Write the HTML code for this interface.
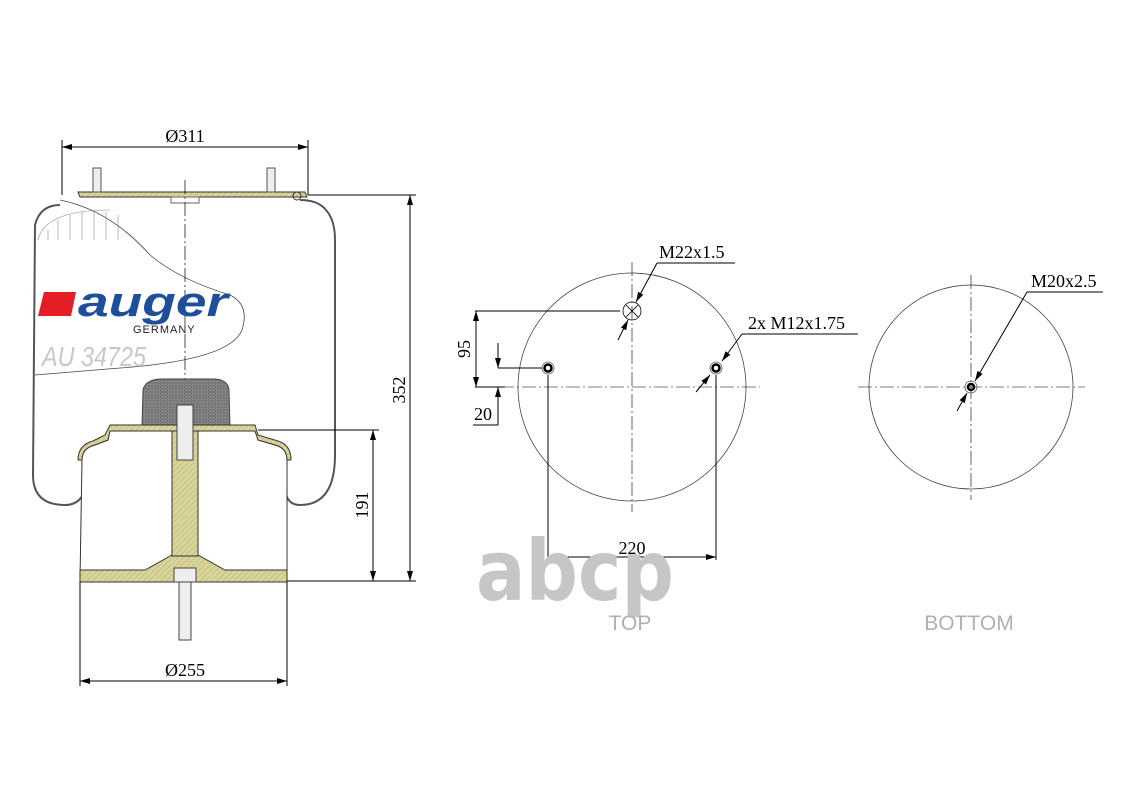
<!DOCTYPE html>
<html><head><meta charset="utf-8"><style>
html,body{margin:0;padding:0;background:#fff;}
svg{display:block;}
.s{font-family:"Liberation Serif",serif;fill:#000;}
.ss{font-family:"Liberation Sans",sans-serif;}
</style></head><body>
<svg width="1131" height="800" viewBox="0 0 1131 800" xmlns="http://www.w3.org/2000/svg">
<defs>
<marker id="a" viewBox="0 0 10 6" refX="10" refY="3" markerWidth="10" markerHeight="6" orient="auto-start-reverse" markerUnits="userSpaceOnUse"><path d="M0,0 L10,3 L0,6z" fill="#000"/></marker>
<pattern id="h" width="4" height="4" patternUnits="userSpaceOnUse" patternTransform="rotate(45)"><rect width="4" height="4" fill="#d9d49a"/><line x1="0" y1="0" x2="0" y2="4" stroke="#b8b070" stroke-width="1"/></pattern>
<pattern id="g" width="3" height="3" patternUnits="userSpaceOnUse"><rect width="3" height="3" fill="#7a7a7a"/><rect width="1" height="1" fill="#999"/></pattern>
</defs>

<g stroke="#000" fill="none" stroke-width="1">
<line x1="62" y1="147" x2="308" y2="147" marker-start="url(#a)" marker-end="url(#a)"/>
<line x1="62" y1="140" x2="62" y2="195"/><line x1="308" y1="140" x2="308" y2="195"/>
<path d="M300,200 Q318,200 326,210 Q335,220 335,240 L335,455 Q335,505 300,505 Q287,505 285,490" stroke="#555" stroke-width="2"/>
<path d="M60,205 Q40,205 35,225 L33,475 Q33,505 65,505 Q80,505 85,490" stroke="#555" stroke-width="2"/>
<path d="M60,200 Q110,210 150,255 Q180,280 230,295 Q250,305 242,330 Q230,360 120,368 L35,375" stroke="#444" stroke-width="0.8"/>
<path d="M38,240 Q45,210 110,210 M48,230 L48,240 M58,220 L58,240 M70,215 L70,240 M82,212 L82,240 M94,212 L94,240 M106,212 L106,240 M118,215 L118,240" stroke="#888" stroke-width="0.6"/>
<path d="M78,192 L305,192 L307,197 L80,197 Z" fill="url(#h)" stroke="#333"/>
<rect x="171" y="197" width="28" height="6" stroke="#666"/>
<rect x="93" y="168" width="8" height="24" fill="#eee" stroke="#555"/>
<rect x="267" y="168" width="8" height="24" fill="#eee" stroke="#555"/>
<circle cx="297" cy="196" r="4" stroke="#333"/>
<line x1="185" y1="180" x2="185" y2="560" stroke="#000" stroke-dasharray="14,3,2,3" stroke-width="0.7"/>
<path d="M142,428 L143,390 Q145,380 160,379 L215,379 Q228,380 229,390 L230,428 Z" fill="url(#g)" stroke="#444"/>
<path d="M110,428 L255,428 L258,440 L275,445 Q287,448 287,460 L287,580 L80,580 L82,460 Q82,448 95,445 L108,440 Z" fill="#fff" stroke="#333" stroke-width="1"/>
<path d="M110,425 L255,425 L258,435 L278,441 Q291,445 291,460 L287,460 Q287,448 275,445 L258,440 L255,431 L110,431 L108,440 L95,445 Q82,448 82,460 L78,460 Q78,445 93,441 L105,435 Z" fill="url(#h)" stroke="#333"/>
<path d="M80,570 L145,570 L172,555 L198,555 L225,570 L287,570 L287,582 L80,582 Z" fill="url(#h)" stroke="#333"/>
<rect x="172" y="431" width="26" height="125" fill="url(#h)" stroke="#333"/>
<rect x="177" y="405" width="16" height="55" fill="#eee" stroke="#444"/>
<rect x="174" y="568" width="22" height="14" fill="#eee" stroke="#444"/>
<rect x="179" y="582" width="12" height="58" fill="#eee" stroke="#444"/>
<line x1="308" y1="195" x2="416" y2="195"/>
<line x1="287" y1="581" x2="416" y2="581"/>
<line x1="410" y1="195" x2="410" y2="581" marker-start="url(#a)" marker-end="url(#a)"/>
<line x1="258" y1="430" x2="379" y2="430"/>
<line x1="373" y1="430" x2="373" y2="581" marker-start="url(#a)" marker-end="url(#a)"/>
<line x1="80" y1="582" x2="80" y2="686"/><line x1="287" y1="582" x2="287" y2="686"/>
<line x1="80" y1="681" x2="287" y2="681" marker-start="url(#a)" marker-end="url(#a)"/>
</g>
<text class="s" x="185" y="142" font-size="18" text-anchor="middle">Ø311</text>
<text class="s" x="185" y="676" font-size="18" text-anchor="middle">Ø255</text>
<text class="s" transform="translate(405,390) rotate(-90)" font-size="18" text-anchor="middle">352</text>
<text class="s" transform="translate(368,505) rotate(-90)" font-size="18" text-anchor="middle">191</text>
<path d="M44,292 L76,292 L71,316 L38,316 Z" fill="#e31e24"/>
<text class="ss" x="78" y="316" font-weight="bold" font-style="italic" font-size="42" style="fill:#1d4f9c" textLength="150" lengthAdjust="spacingAndGlyphs">auger</text>
<text class="ss" x="133" y="333" font-size="11" style="fill:#222" letter-spacing="1">GERMANY</text>
<text class="ss" x="42" y="366" font-style="italic" font-size="28" style="fill:#c8c8c8" textLength="104" lengthAdjust="spacingAndGlyphs">AU 34725</text>

<g stroke="#000" fill="none" stroke-width="0.8">
<circle cx="632" cy="387" r="114" stroke="#444"/>
<line x1="500" y1="387" x2="760" y2="387" stroke-dasharray="14,3,2,3" stroke-width="0.6"/>
<line x1="632" y1="262" x2="632" y2="512" stroke-dasharray="14,3,2,3" stroke-width="0.6"/>
<circle cx="632" cy="311" r="9"/>
<line x1="626" y1="305" x2="638" y2="317"/><line x1="638" y1="305" x2="626" y2="317"/>
<circle cx="548" cy="368" r="6" stroke="#555"/><circle cx="548" cy="368" r="3.5" stroke-width="2.5"/>
<circle cx="716" cy="368" r="6" stroke="#555"/><circle cx="716" cy="368" r="3.5" stroke-width="2.5"/>
<line x1="475" y1="311" x2="620" y2="311" stroke-width="1"/>
<line x1="475" y1="387" x2="505" y2="387" stroke-width="1"/>
<line x1="476" y1="311" x2="476" y2="387" marker-start="url(#a)" marker-end="url(#a)" stroke-width="1"/>
<line x1="498" y1="368" x2="542" y2="368" stroke-width="1"/>
<line x1="498" y1="343" x2="498" y2="368" marker-end="url(#a)" stroke-width="1"/>
<line x1="498" y1="425" x2="498" y2="387" marker-end="url(#a)" stroke-width="1"/>
<line x1="473" y1="425" x2="498" y2="425" stroke-width="1"/>
<line x1="548" y1="375" x2="548" y2="560" stroke-width="1"/>
<line x1="716" y1="375" x2="716" y2="560" stroke-width="1"/>
<line x1="548" y1="557" x2="716" y2="557" marker-start="url(#a)" marker-end="url(#a)" stroke-width="1"/>
<line x1="657" y1="263" x2="735" y2="263" stroke-width="1"/>
<line x1="657" y1="263" x2="636" y2="302" marker-end="url(#a)" stroke-width="1"/>
<line x1="628" y1="320" x2="618" y2="340" marker-start="url(#a)" stroke-width="1"/>
<line x1="742" y1="334" x2="858" y2="334" stroke-width="1"/>
<line x1="742" y1="334" x2="722" y2="361" marker-end="url(#a)" stroke-width="1"/>
<line x1="710" y1="375" x2="696" y2="392" marker-start="url(#a)" stroke-width="1"/>
</g>
<text class="s" x="659" y="258" font-size="18">M22x1.5</text>
<text class="s" x="748" y="329" font-size="18">2x M12x1.75</text>
<text class="s" transform="translate(470,349) rotate(-90)" font-size="18" text-anchor="middle">95</text>
<text class="s" x="474" y="420" font-size="18">20</text>
<text class="s" x="632" y="554" font-size="18" text-anchor="middle">220</text>

<g stroke="#000" fill="none" stroke-width="0.8">
<circle cx="971" cy="387" r="102" stroke="#444"/>
<line x1="858" y1="387" x2="1085" y2="387" stroke-dasharray="14,3,2,3" stroke-width="0.6"/>
<line x1="971" y1="275" x2="971" y2="500" stroke-dasharray="14,3,2,3" stroke-width="0.6"/>
<circle cx="971" cy="387" r="6" stroke="#555"/><circle cx="971" cy="387" r="3" stroke-width="2.5"/>
<line x1="1027" y1="292" x2="1103" y2="292" stroke-width="1"/>
<line x1="1027" y1="292" x2="975" y2="381" marker-end="url(#a)" stroke-width="1"/>
<line x1="967" y1="393" x2="957" y2="411" marker-start="url(#a)" stroke-width="1"/>
</g>
<text class="s" x="1031" y="287" font-size="18">M20x2.5</text>

<text x="476" y="600" style="font-family:'DejaVu Sans',sans-serif;font-weight:bold;fill:#c4c6c8" font-size="84" textLength="198" lengthAdjust="spacingAndGlyphs">abcp</text>
<text class="ss" x="630" y="630" font-size="21" text-anchor="middle" style="fill:#b0b0b0">TOP</text>
<text class="ss" x="969" y="630" font-size="21" text-anchor="middle" style="fill:#b0b0b0">BOTTOM</text>
</svg>
</body></html>
